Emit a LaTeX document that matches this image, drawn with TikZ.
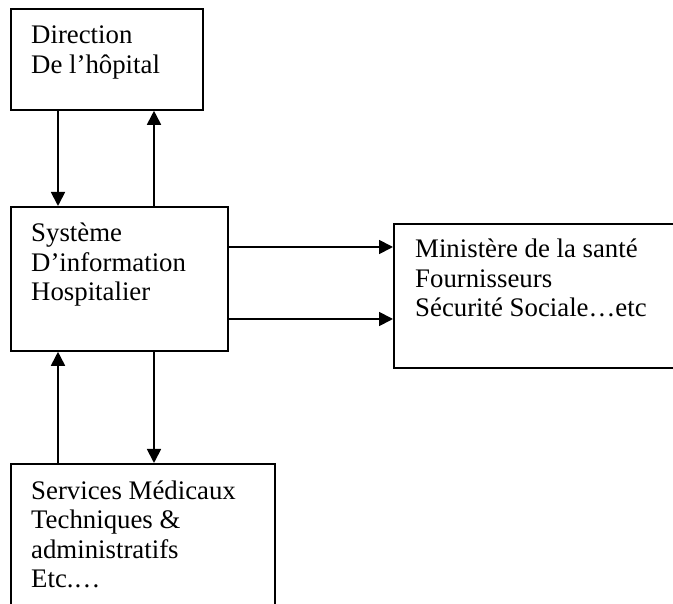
\documentclass[tikz,border=0pt]{standalone}
\usepackage{fontspec}
\setmainfont{Liberation Serif}
\usetikzlibrary{arrows.meta}
\begin{document}
\begin{tikzpicture}[x=1pt,y=-1pt,
  box/.style={draw, line width=1.8pt, inner sep=0pt, anchor=north west},
  lbl/.style={anchor=base west, inner sep=0pt, align=left, font=\fontsize{26.8}{29.5}\selectfont},
  arr/.style={line width=1.8pt, -{Triangle[length=14pt,width=14pt]}}]
\useasboundingbox (0,0) rectangle (673,604);
\node[box, minimum width=192pt, minimum height=101pt] (b1) at (10,8) {};
\node[box, minimum width=217pt, minimum height=144pt] (b2) at (10,206) {};
\node[box, minimum width=285pt, minimum height=144pt] (b3) at (393,223) {};
\node[box, minimum width=264pt, minimum height=160pt] (b4) at (10,463) {};
% base anchor = baseline of the last line
\node[lbl] (t1) at (31,73.5) {Direction\\De l’hôpital};
\node[lbl] (t2) at (31,301) {Système\\D’information\\Hospitalier};
\node[lbl] (t3) at (415,317) {Ministère de la santé\\Fournisseurs\\Sécurité Sociale…etc};
\node[lbl] (t4) at (31,587.5) {Services Médicaux\\Techniques \&\\administratifs\\Etc.…};
\coordinate (xa) at (58,0);
\coordinate (xb) at (154,0);
\coordinate (ya) at (0,247);
\coordinate (yb) at (0,319);
\draw[arr] (b1.south -| xa) -- (b2.north -| xa);
\draw[arr] (b2.north -| xb) -- (b1.south -| xb);
\draw[arr] (b2.east |- ya) -- (b3.west |- ya);
\draw[arr] (b2.east |- yb) -- (b3.west |- yb);
\draw[arr] (b4.north -| xa) -- (b2.south -| xa);
\draw[arr] (b2.south -| xb) -- (b4.north -| xb);
\end{tikzpicture}
\end{document}
